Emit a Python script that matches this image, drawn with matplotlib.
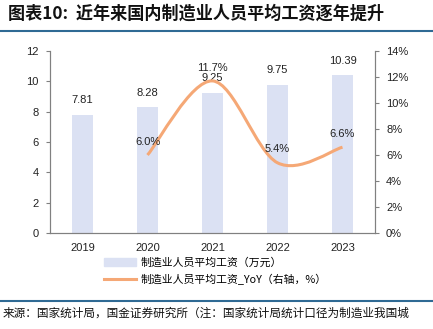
import matplotlib
matplotlib.use('Agg')
import matplotlib.pyplot as plt
from matplotlib.path import Path
import matplotlib.patches as mpatches
from matplotlib.lines import Line2D
import numpy as np

plt.rcParams['font.family'] = ['Liberation Sans', 'Noto Sans CJK SC', 'DejaVu Sans']

# данные с картинки
years = ['2019', '2020', '2021', '2022', '2023']
wage = [7.81, 8.28, 9.25, 9.75, 10.39]
yoy_years = ['2020', '2021', '2022', '2023']
yoy = [6.0, 11.7, 5.4, 6.6]
left_ticks = [0, 2, 4, 6, 8, 10, 12]
right_ticks = [0, 2, 4, 6, 8, 10, 12, 14]

bar_color = '#dbe1f3'
line_color = '#f5a876'
spine_color = '#808080'
cjk = ['Noto Sans CJK SC', 'DejaVu Sans']

fig = plt.figure(figsize=(4.33, 3.29), dpi=100)
ax = fig.add_axes([50 / 433, 1 - 233 / 329, 325 / 433, 182 / 329])
ax2 = ax.twinx()

x = np.arange(len(years))
ax.bar(x, wage, width=0.33, color=bar_color, zorder=1)
for xi, v in zip(x, wage):
    ax.annotate(f'{v:.2f}', (xi, v), xytext=(0, 7), textcoords='offset points',
                ha='center', va='bottom', fontsize=8, color='#222222')

ax.set_xlim(-0.5, len(years) - 0.5)
ax.set_ylim(0, 12)
ax.set_yticks(left_ticks)
ax.set_xticks(x)
ax.set_xticklabels(years)
ax2.set_ylim(0, 14)
ax2.set_yticks(right_ticks)
ax2.set_yticklabels([f'{t}%' for t in right_ticks])

# сглаженная линия (как в Excel) — Catmull-Rom через кривые Безье
xs = np.array([years.index(y) for y in yoy_years], dtype=float)
pts = np.column_stack([xs, yoy])
ext = np.vstack([pts[0], pts, pts[-1]])
verts = [tuple(pts[0])]
codes = [Path.MOVETO]
for i in range(len(pts) - 1):
    p0, p1, p2, p3 = ext[i], ext[i + 1], ext[i + 2], ext[i + 3]
    c1 = p1 + (p2 - p0) / 6
    c2 = p2 - (p3 - p1) / 6
    verts += [tuple(c1), tuple(c2), tuple(p2)]
    codes += [Path.CURVE4] * 3
ax2.add_patch(mpatches.PathPatch(Path(verts, codes), facecolor='none',
                                 edgecolor=line_color, lw=2.2, zorder=3))
for xi, v in zip(xs, yoy):
    ax2.annotate(f'{v:.1f}%', (xi, v), xytext=(0, 6), textcoords='offset points',
                 ha='center', va='bottom', fontsize=8, color='#222222')

for a in (ax, ax2):
    a.spines['top'].set_visible(False)
    for s in ('left', 'right', 'bottom'):
        a.spines[s].set_color(spine_color)
    a.tick_params(labelsize=8, colors='#222222', length=3, color=spine_color, pad=5)
ax.tick_params(axis='x', length=0, pad=7)
ax.set_zorder(ax2.get_zorder() - 1)
ax2.patch.set_visible(False)

handles = [mpatches.Patch(color=bar_color),
           Line2D([], [], color=line_color, lw=2.2)]
labels = ['制造业人员平均工资（万元）', '制造业人员平均工资_YoY（右轴，%）']
fig.legend(handles, labels, loc='upper left', bbox_to_anchor=(100 / 433, 1 - 253 / 329),
           frameon=False, prop={'family': cjk, 'size': 7.8}, handlelength=2.9,
           labelspacing=0.55, handletextpad=0.4, borderaxespad=0)

fig.text(8 / 433, 1 - 14 / 329, '图表10:  近年来国内制造业人员平均工资逐年提升',
         fontsize=12.3, fontweight='bold', family=cjk, va='center', ha='left', color='#111111')
fig.add_artist(Line2D([0, 1], [1 - 31 / 329] * 2, color='#2f6a94', lw=1.5))
fig.add_artist(Line2D([0, 1], [1 - 301 / 329] * 2, color='#2f6a94', lw=1.5))
fig.text(3 / 433, 1 - 313 / 329, '来源：国家统计局，国金证券研究所（注：国家统计局统计口径为制造业我国城',
         fontsize=8.4, family=cjk, va='center', ha='left', color='#111111')

fig.savefig('out.png', dpi=100)
